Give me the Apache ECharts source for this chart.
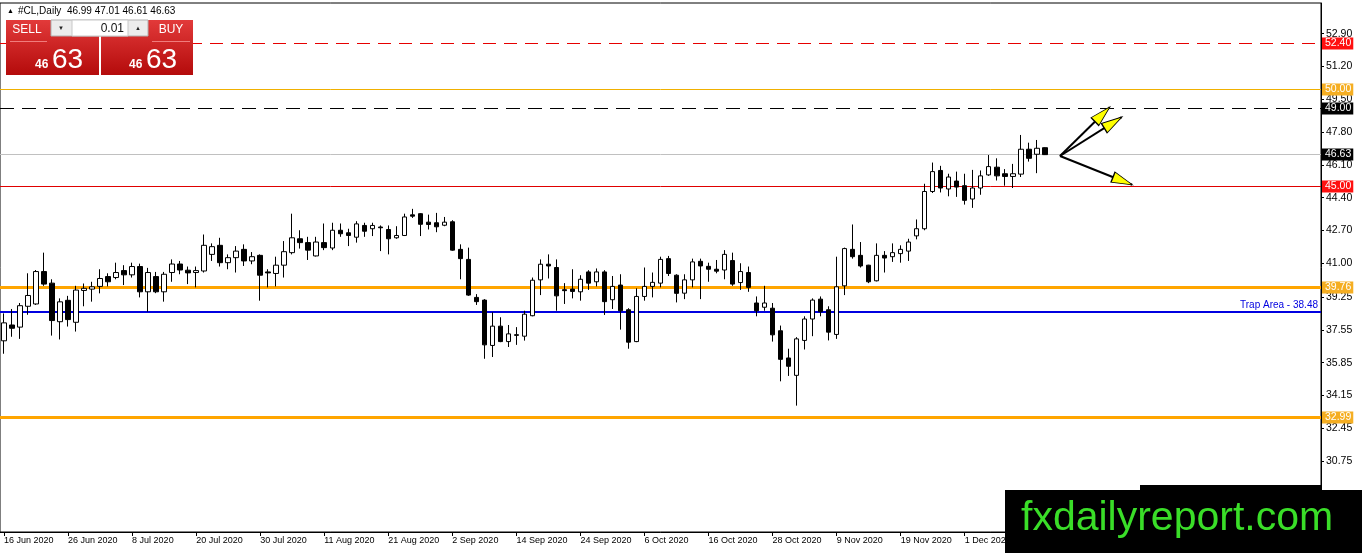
<!DOCTYPE html>
<html><head><meta charset="utf-8">
<script src="https://cdn.jsdelivr.net/npm/echarts@6/dist/echarts.min.js"></script>
<style>html,body{margin:0;padding:0;background:#fff}#c{width:1362px;height:553px}</style>
</head><body><div id="c"></div>
<script>
// ---- data ----
const openValues = [36.98,37.80,37.69,38.77,38.89,40.57,39.97,37.97,39.08,37.94,39.59,39.66,39.80,40.31,40.26,40.62,40.40,40.83,39.52,40.31,39.52,40.52,40.96,40.64,40.52,40.60,41.46,41.93,41.03,41.29,41.72,41.12,41.41,40.55,40.47,40.90,41.55,42.27,42.07,41.38,42.07,41.79,42.71,42.58,42.35,42.96,42.79,42.88,42.75,42.32,42.44,43.51,43.57,43.13,43.10,42.97,43.15,41.72,41.20,39.23,39.09,36.74,37.74,36.94,37.26,37.22,38.28,40.14,40.95,40.78,39.63,39.66,39.52,40.55,40.04,40.55,39.11,39.87,38.59,36.94,39.28,39.80,39.97,41.24,40.38,39.45,40.14,41.10,40.84,40.69,40.65,41.14,40.00,40.52,38.94,38.72,38.67,37.50,36.09,35.19,37.00,38.11,39.14,38.59,37.31,39.83,41.72,41.41,40.90,40.09,41.41,41.34,41.50,41.63,42.42,42.79,44.72,45.81,44.85,45.26,45.02,44.33,44.90,45.58,45.98,45.64,45.50,45.62,46.91,46.65,46.99];
const highValues = [38.40,38.63,38.94,40.48,40.65,41.55,40.17,39.18,39.31,39.83,39.95,40.04,40.69,40.48,41.03,40.90,41.03,40.98,40.76,40.55,40.55,41.20,41.12,40.83,40.83,42.49,42.03,42.32,41.46,41.89,41.98,41.58,41.46,40.69,41.34,42.15,43.57,42.71,42.37,42.37,43.06,43.10,43.06,42.79,43.18,43.10,43.10,42.96,42.96,42.92,43.57,43.82,43.60,43.52,43.61,43.40,43.23,41.98,41.81,39.40,39.14,38.46,38.20,37.80,37.69,38.54,40.26,41.20,41.46,41.20,39.97,40.69,40.38,40.64,40.73,40.64,40.34,40.43,38.67,39.70,40.78,40.52,41.34,41.38,40.43,40.43,41.24,41.24,41.03,41.17,41.68,41.55,41.00,40.83,39.28,39.83,38.94,37.77,36.57,37.17,38.25,39.18,39.28,38.77,41.34,41.81,43.01,42.10,40.92,42.03,41.63,42.03,41.93,42.27,43.27,45.12,46.22,46.05,45.64,45.75,45.64,45.84,45.81,46.61,46.44,45.88,46.15,47.65,47.25,47.39,47.01];
const lowValues = [36.31,37.19,37.08,38.33,38.84,39.83,37.25,37.05,37.72,37.46,38.77,39.01,39.44,39.80,40.17,39.87,40.26,39.23,38.49,39.45,39.01,40.04,40.43,39.92,39.75,40.52,41.12,40.83,40.69,40.52,40.86,40.95,39.06,39.75,39.80,40.26,41.46,41.76,41.17,41.35,41.68,41.68,42.37,41.89,42.07,42.37,42.41,41.63,41.46,42.27,42.41,43.35,42.41,42.75,42.61,42.92,41.65,40.17,39.31,38.84,36.05,36.14,36.91,36.66,36.77,36.99,38.25,39.35,40.21,38.54,38.89,39.18,39.06,39.62,39.80,38.32,38.63,37.56,36.57,36.91,39.06,39.23,39.75,40.34,38.97,39.14,39.75,39.14,40.04,40.48,40.17,39.83,39.62,39.52,38.25,38.54,36.94,34.88,35.16,33.62,36.53,37.22,38.25,37.00,37.08,39.35,41.24,40.78,39.97,40.06,40.52,41.07,41.03,41.12,42.24,42.71,44.64,44.67,44.47,44.44,44.04,43.87,44.55,45.53,45.29,45.02,44.90,45.47,46.27,45.67,46.61];
const closeValues = [37.91,37.63,38.80,39.33,40.57,39.92,38.03,39.00,38.08,39.61,39.70,39.78,40.21,40.04,40.52,40.40,40.83,39.52,40.52,39.52,40.43,40.96,40.65,40.50,40.62,41.93,41.86,41.03,41.29,41.63,41.12,41.34,40.38,40.50,40.90,41.60,42.32,42.07,41.68,42.10,41.81,42.71,42.53,42.44,43.04,42.66,42.96,42.84,42.27,42.44,43.40,43.44,43.02,43.01,42.89,43.13,41.68,41.24,39.35,39.01,36.77,37.74,36.94,37.34,37.30,38.36,40.12,40.95,40.86,39.31,39.58,39.54,40.17,39.97,40.55,39.01,39.80,38.54,36.91,39.28,39.80,40.01,41.20,40.47,39.44,40.14,41.07,40.86,40.69,40.59,41.46,39.92,40.57,39.75,38.54,38.94,37.29,36.02,35.66,37.08,38.11,39.09,38.49,37.43,39.78,41.76,41.34,40.86,40.04,41.41,41.27,41.55,41.72,42.10,42.79,44.72,45.75,44.90,45.47,44.95,44.26,44.90,45.53,46.01,45.53,45.50,45.64,46.91,46.44,46.96,46.63];
const yTickValues = [30.75,32.45,34.15,35.85,37.55,39.25,41.00,42.70,44.40,46.10,47.80,49.50,51.20,52.90];
const xTickLabels = ['16 Jun 2020','26 Jun 2020','8 Jul 2020','20 Jul 2020','30 Jul 2020','11 Aug 2020','21 Aug 2020','2 Sep 2020','14 Sep 2020','24 Sep 2020','6 Oct 2020','16 Oct 2020','28 Oct 2020','9 Nov 2020','19 Nov 2020','1 Dec 2020'];
const levelValues = [52.40, 50.00, 49.00, 46.63, 45.00, 39.76, 38.48, 32.99];
const trapLabel = 'Trap Area - 38.48';
const titleText = '#CL,Daily  46.99 47.01 46.61 46.63';
const arrowStart = [131.9, 46.56];
const arrowTips = [[138.1, 49.09], [139.6, 48.57], [140.9, 45.07]];
const totalSlots = 165;

// ---- categories: trading weekdays from 16 Jun 2020 ----
const monthNames = ['Jan','Feb','Mar','Apr','May','Jun','Jul','Aug','Sep','Oct','Nov','Dec'];
const categories = [];
{ const d = new Date(Date.UTC(2020,5,16));
  while (categories.length < totalSlots) {
    const wd = d.getUTCDay();
    if (wd !== 0 && wd !== 6) categories.push(d.getUTCDate()+' '+monthNames[d.getUTCMonth()]+' '+d.getUTCFullYear());
    d.setUTCDate(d.getUTCDate()+1);
  }
}
const tickSet = new Set(xTickLabels);
const candleData = openValues.map((o,i)=>[o, closeValues[i], lowValues[i], highValues[i]]);

// ---- styles for levels (kept separately) ----
const levelStyles = [
  {color:'#e60000', width:1, dash:[13,8], box:'#ff1010'},
  {color:'#f0b000', width:1, dash:null, box:'#f5ae22'},
  {color:'#000000', width:1, dash:[14,8], box:'#000000'},
  {color:'#c0c0c0', width:1, dash:null, box:'#000000'},
  {color:'#e00000', width:1, dash:null, box:'#ff1010'},
  {color:'#ffa500', width:3, dash:null, box:'#f5ae22'},
  {color:'#0000e0', width:2, dash:null, box:null},
  {color:'#ffa500', width:3, dash:null, box:'#f5ae22'}
];
const FONT = 'Liberation Sans, Arial, sans-serif';
const xLo = -0.5, xHi = totalSlots - 0.5;

function renderLevel(params, api) {
  const i = params.dataIndex;
  const v = api.value(1);
  const st = levelStyles[i];
  const cs = params.coordSys;
  const raw = api.coord([0, v])[1];
  const y = (st.width % 2 === 1) ? Math.round(raw - 0.5) + 0.5 : Math.round(raw);
  const children = [{
    type:'line', shape:{x1:cs.x, y1:y, x2:cs.x+cs.width, y2:y},
    style:{stroke:st.color, lineWidth:st.width, lineDash:st.dash || null}
  }];
  if (st.box) {
    children.push({type:'text', z2:10, style:{
      x:cs.x+cs.width+1, y:y, text:v.toFixed(2), fill:'#fff', backgroundColor:st.box,
      padding:[1,2,0,3], fontSize:10.5, lineHeight:11, fontFamily:FONT, verticalAlign:'middle', align:'left'}});
  } else {
    children.push({type:'text', style:{
      x:cs.x+cs.width-3, y:y-2, text:trapLabel, fill:st.color,
      fontSize:10, fontFamily:FONT, verticalAlign:'bottom', align:'right'}});
  }
  return {type:'group', children};
}

const chart = echarts.init(document.getElementById('c'), null, {renderer:'canvas'});
const redGrad = (c1,c2)=>new echarts.graphic.LinearGradient(0,0,0,1,[{offset:0,color:c1},{offset:1,color:c2}]);

const panel = [
  {type:'rect', shape:{x:6,y:20,width:93,height:55}, style:{fill:redGrad('#e23a3a','#b40b0b')}},
  {type:'rect', shape:{x:101,y:20,width:92,height:55}, style:{fill:redGrad('#e23a3a','#b40b0b')}},
  {type:'line', shape:{x1:10,y1:41.5,x2:47,y2:41.5}, style:{stroke:'#f07c7c',lineWidth:1}},
  {type:'line', shape:{x1:152,y1:41.5,x2:190,y2:41.5}, style:{stroke:'#f07c7c',lineWidth:1}},
  {type:'rect', shape:{x:51,y:20,width:97,height:16}, style:{fill:'#ececec',stroke:'#b0b0b0',lineWidth:1}},
  {type:'rect', shape:{x:72,y:20,width:56,height:16}, style:{fill:'#ffffff',stroke:'#c8c8c8',lineWidth:1}},
  {type:'text', style:{x:61,y:28,text:'▼',fontSize:6,fill:'#222',align:'center',verticalAlign:'middle'}},
  {type:'text', style:{x:138,y:28,text:'▲',fontSize:6,fill:'#222',align:'center',verticalAlign:'middle'}},
  {type:'text', style:{x:124,y:29,text:'0.01',fontSize:12,fontFamily:FONT,fill:'#111',align:'right',verticalAlign:'middle'}},
  {type:'text', style:{x:27,y:30,text:'SELL',fontSize:12,fontFamily:FONT,fill:'#fff',align:'center',verticalAlign:'middle'}},
  {type:'text', style:{x:171,y:30,text:'BUY',fontSize:12,fontFamily:FONT,fill:'#fff',align:'center',verticalAlign:'middle'}},
  {type:'text', style:{x:35,y:71,text:'46',fontSize:12,fontWeight:'bold',fontFamily:FONT,fill:'#fff',verticalAlign:'bottom'}},
  {type:'text', style:{x:52,y:74,text:'63',fontSize:28,fontFamily:FONT,fill:'#fff',verticalAlign:'bottom'}},
  {type:'text', style:{x:129,y:71,text:'46',fontSize:12,fontWeight:'bold',fontFamily:FONT,fill:'#fff',verticalAlign:'bottom'}},
  {type:'text', style:{x:146,y:74,text:'63',fontSize:28,fontFamily:FONT,fill:'#fff',verticalAlign:'bottom'}}
];

const graphics = [
  {type:'text', z:100, style:{x:7,y:11,text:'▲',fontSize:7,fill:'#000',verticalAlign:'middle'}},
  {type:'text', z:100, style:{x:18,y:11,text:titleText,fontSize:10,fontFamily:FONT,fill:'#000',verticalAlign:'middle'}},
  ...panel.map(g=>Object.assign({z:100},g)),
  {type:'rect', z:100, shape:{x:1005,y:490,width:357,height:63}, style:{fill:'#000'}},
  {type:'rect', z:100, shape:{x:1140,y:485,width:181,height:6}, style:{fill:'#000'}},
  {type:'text', z:101, style:{x:1021,y:519,text:'fxdailyreport.com',fontSize:41,fontFamily:FONT,fill:'#3ade28',verticalAlign:'middle'}}
];

const arrowLineSeries = arrowTips.map(t=>({
  type:'line', xAxisIndex:1, yAxisIndex:0, data:[arrowStart, t], symbol:'none', silent:true,
  lineStyle:{color:'#000', width:2}, z:5
}));

const option = {
  animation:false,
  backgroundColor:'#ffffff',
  grid:{left:0, right:41, top:3, bottom:21, show:true, borderColor:'#000', borderWidth:1, backgroundColor:'transparent'},
  xAxis:[{
    type:'category', data:categories, boundaryGap:true,
    axisLine:{onZero:false, lineStyle:{color:'#000'}},
    axisTick:{show:true, alignWithLabel:true, length:4, interval:(i,v)=>tickSet.has(v), lineStyle:{color:'#000'}},
    axisLabel:{interval:(i,v)=>tickSet.has(v), align:'left', margin:4, fontSize:9, fontFamily:FONT, color:'#000'},
    splitLine:{show:false}
  },{
    type:'value', min:xLo, max:xHi, show:false, axisLine:{onZero:false}
  }],
  yAxis:[{
    type:'value', position:'right', min:27.07, max:54.49, scale:true,
    axisLine:{show:true, onZero:false, lineStyle:{color:'#000'}},
    axisTick:{show:true, length:3, customValues:yTickValues, lineStyle:{color:'#000'}},
    axisLabel:{customValues:yTickValues, formatter:v=>v.toFixed(2), margin:5, fontSize:10.5, fontFamily:FONT, color:'#000'},
    splitLine:{show:false}
  }],
  graphic:graphics,
  series:[
    {
      type:'candlestick', data:candleData, barWidth:5, silent:true,
      itemStyle:{color:'#ffffff', color0:'#000000', borderColor:'#000000', borderColor0:'#000000', borderWidth:1},
      z:3
    },
    {
      type:'custom', xAxisIndex:1, yAxisIndex:0, silent:true, clip:false, z:2,
      data: levelValues.map(v=>[0, v]),
      encode:{x:0, y:1},
      renderItem: renderLevel
    },
    ...arrowLineSeries,
    {type:'scatter', xAxisIndex:1, yAxisIndex:0, data:[], silent:true, z:6}
  ]
};
chart.setOption(option);

// arrowheads oriented along each arrow
const arrowSeriesIdx = 2;
const headSeriesIdx = arrowSeriesIdx + arrowLineSeries.length;
const p0 = chart.convertToPixel({seriesIndex:arrowSeriesIdx}, arrowStart);
const heads = arrowTips.map(t=>{
  const p1 = chart.convertToPixel({seriesIndex:arrowSeriesIdx}, t);
  const dx = p1[0]-p0[0], dy = p1[1]-p0[1], len = Math.hypot(dx,dy);
  const ux = dx/len, uy = dy/len;
  const c = [p1[0]-ux*10, p1[1]-uy*10];
  const dc = chart.convertFromPixel({seriesIndex:arrowSeriesIdx}, c);
  const ang = Math.atan2(-dy, dx)*180/Math.PI - 90;
  return {value:dc, symbolRotate:ang};
});
const upd = [];
for (let k = 0; k < headSeriesIdx; k++) upd.push({});
upd.push({
  type:'scatter', xAxisIndex:1, yAxisIndex:0, silent:true, z:6,
  symbol:'triangle', symbolSize:[11,21],
  itemStyle:{color:'#ffff00', borderColor:'#000', borderWidth:1, opacity:1},
  data:heads
});
chart.setOption({series:upd});
</script>
</body></html>
